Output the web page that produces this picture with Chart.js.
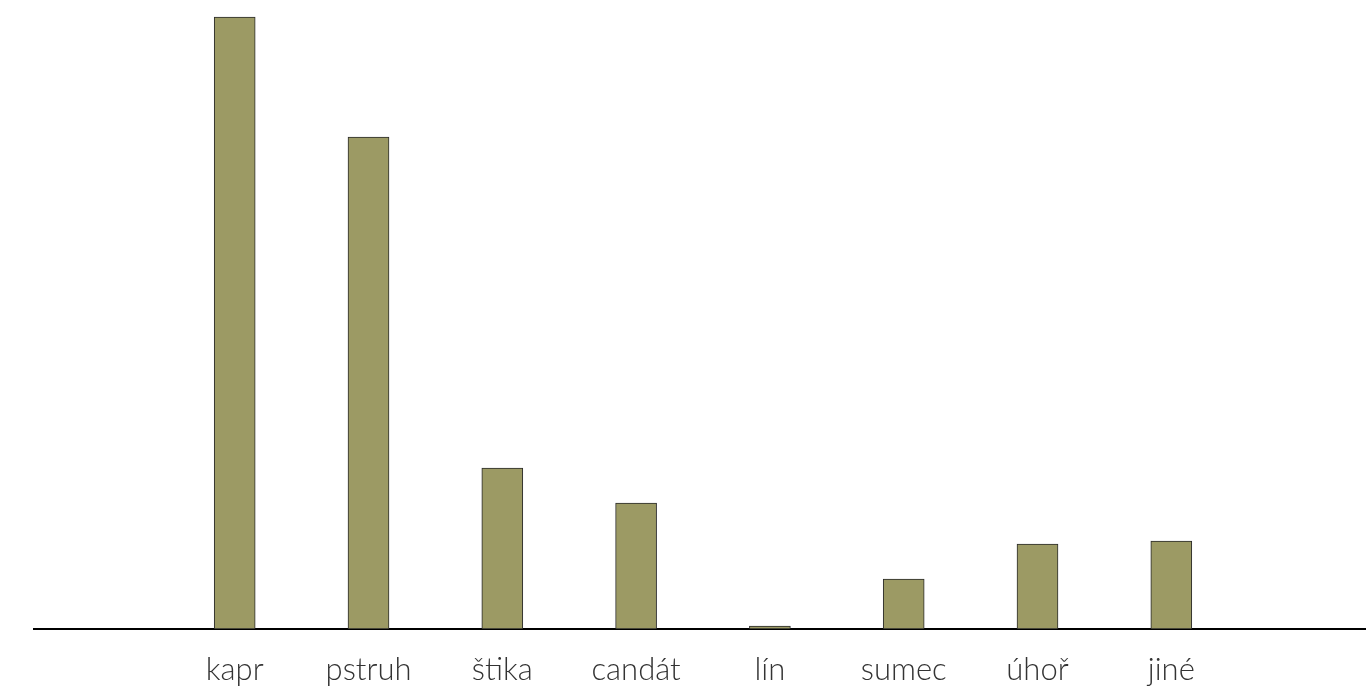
<!DOCTYPE html>
<html>
<head>
<meta charset="utf-8">
<script src="https://cdn.jsdelivr.net/npm/chart.js@4.4.1/dist/chart.umd.min.js"></script>
<style>
  html, body { margin: 0; padding: 0; background: #fff; overflow: hidden; }
  #wrap { position: relative; width: 1372px; height: 695px; }
</style>
</head>
<body>
<div id="wrap"><canvas id="graf"></canvas></div>
<script>
// kategorie (prázdné sloty na krajích)
const druhy = ['', 'kapr', 'pstruh', 'štika', 'candát', 'lín', 'sumec', 'úhoř', 'jiné', ''];
// hodnoty (relativní)
const hodnoty = [null, 612, 492, 161, 126, 3, 50, 85, 88, null];
const Y_MAX = 629;

const BARVA_SLOUPCE = '#9c9a64';

new Chart(document.getElementById('graf'), {
    type: 'bar',
    data: {
        labels: druhy,
        datasets: [{
            data: hodnoty,
            backgroundColor: BARVA_SLOUPCE,
            borderColor: '#2a2a2a',
            borderWidth: 1,
            borderSkipped: false,
            barThickness: 41
        }]
    },
    options: {
        responsive: true,
        maintainAspectRatio: false,
        animation: false,
        layout: {
            // záporný spodní okraj => popisky níž, osa zůstane na 629
            padding: { left: 34, top: 0, right: 0, bottom: -16 }
        },
        plugins: {
            legend: { display: false },
            tooltip: { enabled: false }
        },
        scales: {
            x: {
                grid: { display: false, drawTicks: false },
                border: { display: true, color: '#000', width: 2 },
                ticks: {
                    color: '#333',
                    padding: 24,
                    font: { family: 'Lato', weight: 300, size: 31, lineHeight: '34px' }
                }
            },
            y: {
                display: false,
                min: 0,
                max: Y_MAX
            }
        }
    }
});
</script>
</body>
</html>
